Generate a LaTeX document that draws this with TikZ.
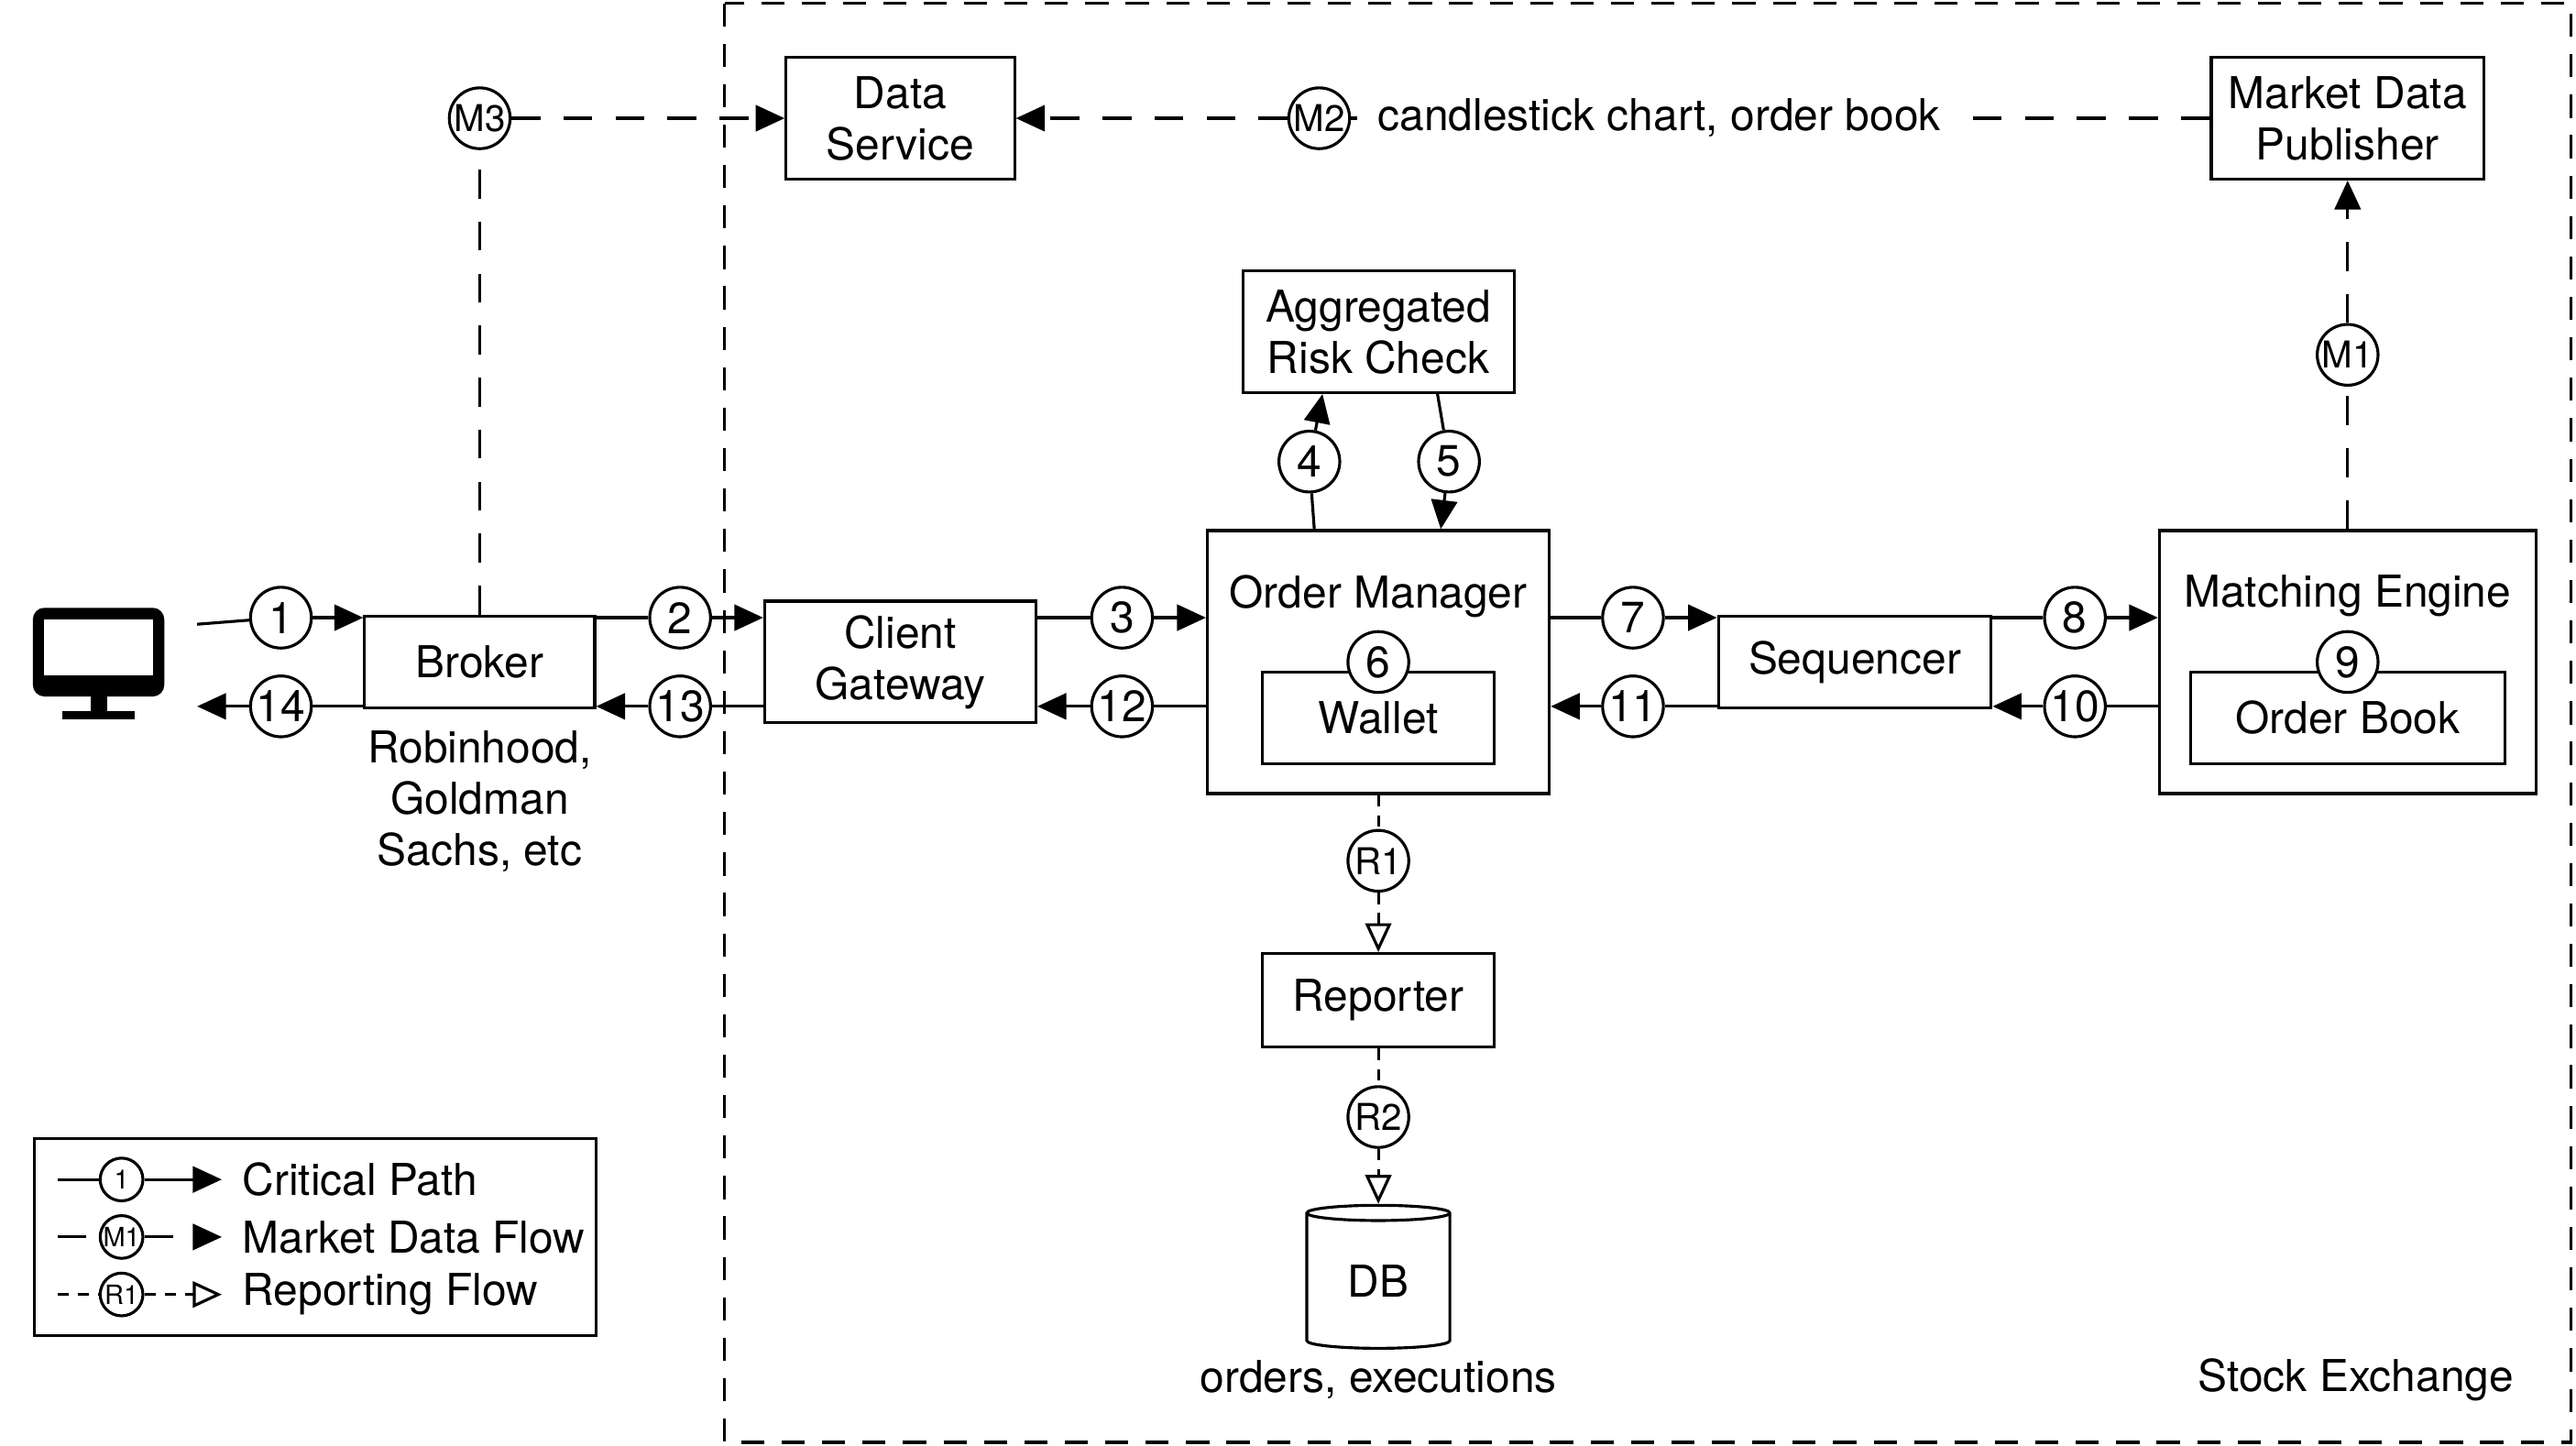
\documentclass[tikz,border=0pt]{standalone}
\usepackage{fontspec}
\setmainfont{TeX Gyre Heros}
\usetikzlibrary{arrows.meta,positioning,shapes.geometric,calc}

\begin{document}
\begin{tikzpicture}[
    x=0.01cm, y=-0.01cm,
    line width=0.5pt,
    every node/.style={font=\fontsize{7.6}{8.9}\selectfont},
    box/.style={rectangle, draw, align=center, inner sep=0pt},
    num/.style={circle, draw, minimum size=0.37cm, inner sep=0pt, fill=white},
    mnum/.style={num, font=\fontsize{6.4}{7}\selectfont},
    legnum/.style={circle, draw, minimum size=0.26cm, inner sep=0pt, fill=white, font=\fontsize{4.6}{5}\selectfont},
    crit/.style={-{Triangle[length=5pt,width=4.5pt]}},
    market/.style={dash pattern=on 5pt off 4pt, -{Triangle[length=5pt,width=4.5pt]}},
    report/.style={dash pattern=on 2pt off 1.5pt, -{Triangle[open,length=5pt,width=4.5pt]}},
]
\useasboundingbox (0,0) rectangle (1568,880);

% Stock exchange boundary
\draw[dash pattern=on 4pt off 3pt] (441,2) rectangle (1565,878);
\node[anchor=east, inner sep=0pt] (sx) at (1531,840) {Stock Exchange};

% Client monitor
\fill[rounded corners=2pt] (20,370) rectangle (100,424);
\fill[white] (27,377) rectangle (93,411);
\fill (55,424) rectangle (65,434);
\fill (38,433) rectangle (82,438);
\coordinate (client) at (120,403);

% Main components
\node[box, minimum width=1.40cm, minimum height=0.56cm] (broker) at (292,403) {Broker};
\node[align=center] (brokers) at (292,488) {Robinhood,\\Goldman\\Sachs, etc};
\node[box, minimum width=1.65cm, minimum height=0.74cm] (gateway) at (548,403) {Client\\Gateway};
\node[box, minimum width=2.08cm, minimum height=1.60cm] (om) at (839,403) {};
\node (omtitle) at (839,363) {Order Manager};
\node[box, minimum width=1.41cm, minimum height=0.56cm] (wallet) at (839,437) {Wallet};
\node[num] (c6) at (839,403) {6};
\node[box, minimum width=1.65cm, minimum height=0.74cm] (risk) at (839,202) {Aggregated\\Risk Check};
\node[box, minimum width=1.66cm, minimum height=0.56cm] (seq) at (1129,403) {Sequencer};
\node[box, minimum width=2.29cm, minimum height=1.60cm] (me) at (1429,403) {};
\node (metitle) at (1429,363) {Matching Engine};
\node[box, minimum width=1.91cm, minimum height=0.56cm] (book) at (1429,437) {Order Book};
\node[num] (c9) at (1429,403) {9};
\node[box, minimum width=1.66cm, minimum height=0.74cm] (mdp) at (1429,72) {Market Data\\Publisher};
\node[box, minimum width=1.39cm, minimum height=0.74cm] (ds) at (548,72) {Data\\Service};
\node[box, minimum width=1.41cm, minimum height=0.57cm] (reporter) at (839,609) {Reporter};
\node[cylinder, shape border rotate=90, draw, aspect=0.25,
      minimum width=0.87cm, minimum height=0.87cm, inner sep=0pt] (db) at (839,780) {DB};
\node (dbnote) at (839,840) {orders, executions};

% Critical path
\node[num] (c1) at (171,376) {1};
\node[num] (c14) at (171,430) {14};
\node[num] (c2) at (414,376) {2};
\node[num] (c13) at (414,430) {13};
\node[num] (c3) at (683,376) {3};
\node[num] (c12) at (683,430) {12};
\node[num] (c4) at (797,281) {4};
\node[num] (c5) at (882,281) {5};
\node[num] (c7) at (994,376) {7};
\node[num] (c11) at (994,430) {11};
\node[num] (c8) at (1263,376) {8};
\node[num] (c10) at (1263,430) {10};

\draw (client |- 0,380) -- (c1);
\draw[crit] (c1) -- (c1 -| broker.west);
\draw (c14 -| broker.west) -- (c14);
\draw[crit] (c14) -- (client |- c14);
\draw (c2 -| broker.east) -- (c2);
\draw[crit] (c2) -- (c2 -| gateway.west);
\draw (c13 -| gateway.west) -- (c13);
\draw[crit] (c13) -- (c13 -| broker.east);
\draw (c3 -| gateway.east) -- (c3);
\draw[crit] (c3) -- (c3 -| om.west);
\draw (c12 -| om.west) -- (c12);
\draw[crit] (c12) -- (c12 -| gateway.east);
\draw ($(om.north)+(-39,0)$) -- (c4);
\draw[crit] (c4) -- ($(risk.south)+(-34,0)$);
\draw ($(risk.south)+(36,0)$) -- (c5);
\draw[crit] (c5) -- ($(om.north)+(38,0)$);
\draw (c7 -| om.east) -- (c7);
\draw[crit] (c7) -- (c7 -| seq.west);
\draw (c11 -| seq.west) -- (c11);
\draw[crit] (c11) -- (c11 -| om.east);
\draw (c8 -| seq.east) -- (c8);
\draw[crit] (c8) -- (c8 -| me.west);
\draw (c10 -| me.west) -- (c10);
\draw[crit] (c10) -- (c10 -| seq.east);

% Market data flow
\node[mnum] (m1) at (1429,216) {M1};
\node[mnum] (m2) at (803,72) {M2};
\node[mnum] (m3) at (292,72) {M3};
\node[fill=white] (m2note) at (1010,72) {candlestick chart, order book};
\draw[dash pattern=on 5pt off 4pt] (me.north) -- (m1);
\draw[market] (m1) -- (mdp.south);
\draw[dash pattern=on 5pt off 4pt] (mdp.west) -- (m2note) -- (m2);
\draw[market] (m2) -- (ds.east);
\draw[dash pattern=on 5pt off 4pt] (broker.north) -- (m3);
\draw[market] (m3) -- (ds.west);

% Reporting flow
\node[mnum] (r1) at (839,524) {R1};
\node[mnum] (r2) at (839,680) {R2};
\draw[dash pattern=on 2pt off 1.5pt] (om.south) -- (r1);
\draw[report] (r1) -- (reporter.north);
\draw[dash pattern=on 2pt off 1.5pt] (reporter.south) -- (r2);
\draw[report] (r2) -- (db.top);

% Legend
\draw (21,693) rectangle (363,813);
\node[legnum] (l1) at (74,718) {1};
\node[legnum] (l2) at (74,753) {M1};
\node[legnum] (l3) at (74,788) {R1};
\node[anchor=west] (lt1) at (135,718) {Critical Path};
\node[anchor=west] (lt2) at (135,753) {Market Data Flow};
\node[anchor=west] (lt3) at (135,788) {Reporting Flow};
\draw (35,718) -- (l1);
\draw[crit] (l1) -- (lt1.west);
\draw[dash pattern=on 5pt off 4pt] (35,753) -- (l2);
\draw[market] (l2) -- (lt2.west);
\draw[dash pattern=on 2pt off 1.5pt] (35,788) -- (l3);
\draw[report] (l3) -- (lt3.west);
\end{tikzpicture}
\end{document}
